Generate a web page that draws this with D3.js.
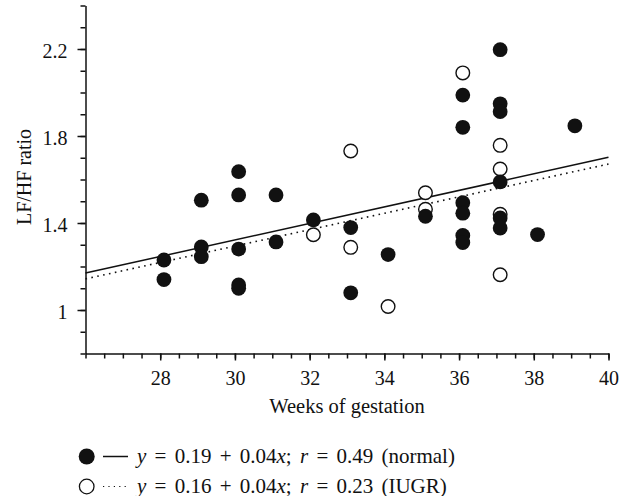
<!DOCTYPE html>
<html>
<head>
<meta charset="utf-8">
<script src="https://cdn.jsdelivr.net/npm/d3@7"></script>
<style>
  body { margin: 0; background: #fff; }
  svg { display: block; }
  text { font-family: "Liberation Serif", "Times New Roman", serif; fill: #111; white-space: pre; }
</style>
</head>
<body>
<svg id="chart" width="629" height="496"></svg>
<script>
// gestation week / LF-HF ratio
var normalWeek  = [28.1, 28.1, 29.1, 29.1, 29.1, 30.1, 30.1, 30.1, 30.1, 30.1, 31.1, 31.1,
                   32.1, 33.1, 33.1, 34.1, 35.1, 36.1, 36.1, 36.1, 36.1, 36.1, 36.1,
                   37.1, 37.1, 37.1, 37.1, 37.1, 37.1, 38.1, 39.1];
var normalRatio = [1.23, 1.14, 1.505, 1.29, 1.245, 1.636, 1.529, 1.28, 1.115, 1.10, 1.529, 1.313,
                   1.414, 1.379, 1.079, 1.255, 1.431, 1.988, 1.84, 1.493, 1.445, 1.343, 1.31,
                   2.197, 1.948, 1.912, 1.589, 1.423, 1.377, 1.347, 1.847];
var iugrWeek    = [32.1, 33.1, 33.1, 34.1, 35.1, 35.1, 36.1, 37.1, 37.1, 37.1, 37.1];
var iugrRatio   = [1.346, 1.731, 1.288, 1.016, 1.539, 1.463, 2.09, 1.757, 1.648, 1.44, 1.162];

// regression line end points
var fitWeek   = [26, 40];
var normalFit = [1.17, 1.702];
var iugrFit   = [1.143, 1.671];

var xMajorTicks = [28, 30, 32, 34, 36, 38, 40];
var xMinorTicks = [26, 26.5, 27, 27.5, 28, 28.5, 29, 29.5, 30, 30.5, 31, 31.5, 32, 32.5, 33, 33.5,
                   34, 34.5, 35, 35.5, 36, 36.5, 37, 37.5, 38, 38.5, 39, 39.5, 40];
var yMajorTicks = [1, 1.4, 1.8, 2.2];
var yMinorTicks = [0.8, 0.9, 1, 1.1, 1.2, 1.3, 1.4, 1.5, 1.6, 1.7, 1.8, 1.9, 2, 2.1, 2.2, 2.3, 2.4];

var legendLines = [
  [["y", true], [" = 0.19 + 0.04", false], ["x", true], ["; ", false], ["r", true], [" = 0.49 (normal)", false]],
  [["y", true], [" = 0.16 + 0.04", false], ["x", true], ["; ", false], ["r", true], [" = 0.23 (IUGR)", false]]
];

var svg = d3.select("#chart");
var ink = "#111";

var x = d3.scaleLinear().domain([26, 40]).range([85.5, 608.5]);
var y = d3.scaleLinear().domain([0.8, 2.4]).range([353.5, 5.5]);

// axes
function styleAxis(g) {
  g.selectAll("path, line").attr("stroke", ink).attr("stroke-width", 1.5);
  g.selectAll("text").attr("font-size", 20).attr("fill", ink)
    .style("font-family", "'Liberation Serif', serif");
}

svg.append("g")
    .attr("transform", "translate(0," + y(0.8) + ")")
    .call(d3.axisBottom(x).tickValues(xMinorTicks).tickSize(5).tickSizeOuter(0).tickFormat(""))
    .call(styleAxis);

svg.append("g")
    .attr("transform", "translate(0," + y(0.8) + ")")
    .call(d3.axisBottom(x).tickValues(xMajorTicks).tickSize(7).tickPadding(10).tickFormat(d3.format("d")))
    .call(function(g) { g.select(".domain").remove(); })
    .call(styleAxis);

svg.append("g")
    .attr("transform", "translate(" + x(26) + ",0)")
    .call(d3.axisLeft(y).tickValues(yMinorTicks).tickSize(5).tickSizeOuter(0).tickFormat(""))
    .call(styleAxis);

svg.append("g")
    .attr("transform", "translate(" + x(26) + ",0)")
    .call(d3.axisLeft(y).tickValues(yMajorTicks).tickSize(8).tickPadding(10).tickFormat(function(d) { return String(d); }))
    .call(function(g) { g.select(".domain").remove(); g.selectAll("text").attr("dy", "0.42em"); })
    .call(styleAxis);

// axis titles
svg.append("text")
    .attr("transform", "translate(31,177) rotate(-90)")
    .attr("text-anchor", "middle")
    .attr("font-size", 20)
    .text("LF/HF ratio");

svg.append("text")
    .attr("x", 347)
    .attr("y", 413)
    .attr("text-anchor", "middle")
    .attr("font-size", 20.5)
    .text("Weeks of gestation");

// regression lines
var line = d3.line()
    .x(function(d) { return x(d[0]); })
    .y(function(d) { return y(d[1]); });

svg.append("path")
    .datum(d3.zip(fitWeek, iugrFit))
    .attr("d", line)
    .attr("fill", "none")
    .attr("stroke", ink)
    .attr("stroke-width", 1.6)
    .attr("stroke-dasharray", "1.6,4.4");

svg.append("path")
    .datum(d3.zip(fitWeek, normalFit))
    .attr("d", line)
    .attr("fill", "none")
    .attr("stroke", ink)
    .attr("stroke-width", 1.5);

// points: IUGR (open) under normal (filled)
svg.append("g").selectAll("circle")
    .data(d3.zip(iugrWeek, iugrRatio))
  .enter().append("circle")
    .attr("cx", function(d) { return x(d[0]); })
    .attr("cy", function(d) { return y(d[1]); })
    .attr("r", 6.8)
    .attr("fill", "#fff")
    .attr("stroke", ink)
    .attr("stroke-width", 1.4);

svg.append("g").selectAll("circle")
    .data(d3.zip(normalWeek, normalRatio))
  .enter().append("circle")
    .attr("cx", function(d) { return x(d[0]); })
    .attr("cy", function(d) { return y(d[1]); })
    .attr("r", 7.4)
    .attr("fill", ink);

// legend
var legend = svg.append("g");
var rowY = [456.5, 486.5];

legend.append("circle").attr("cx", 86.7).attr("cy", rowY[0]).attr("r", 8).attr("fill", ink);
legend.append("line").attr("x1", 103).attr("x2", 128).attr("y1", rowY[0]).attr("y2", rowY[0])
    .attr("stroke", ink).attr("stroke-width", 1.5);

legend.append("circle").attr("cx", 86.7).attr("cy", rowY[1]).attr("r", 7.3)
    .attr("fill", "#fff").attr("stroke", ink).attr("stroke-width", 1.3);
legend.append("line").attr("x1", 103).attr("x2", 126).attr("y1", rowY[1]).attr("y2", rowY[1])
    .attr("stroke", ink).attr("stroke-width", 1.2).attr("stroke-dasharray", "1.2,4.2");

legend.selectAll("text.entry")
    .data(legendLines)
  .enter().append("text")
    .attr("class", "entry")
    .attr("x", 137)
    .attr("y", function(d, i) { return rowY[i] + 6; })
    .attr("font-size", 21)
    .attr("word-spacing", 3)
    .each(function(parts) {
      var t = d3.select(this);
      parts.forEach(function(p) {
        t.append("tspan")
          .attr("font-style", p[1] ? "italic" : "normal")
          .text(p[0]);
      });
    });
</script>
</body>
</html>
